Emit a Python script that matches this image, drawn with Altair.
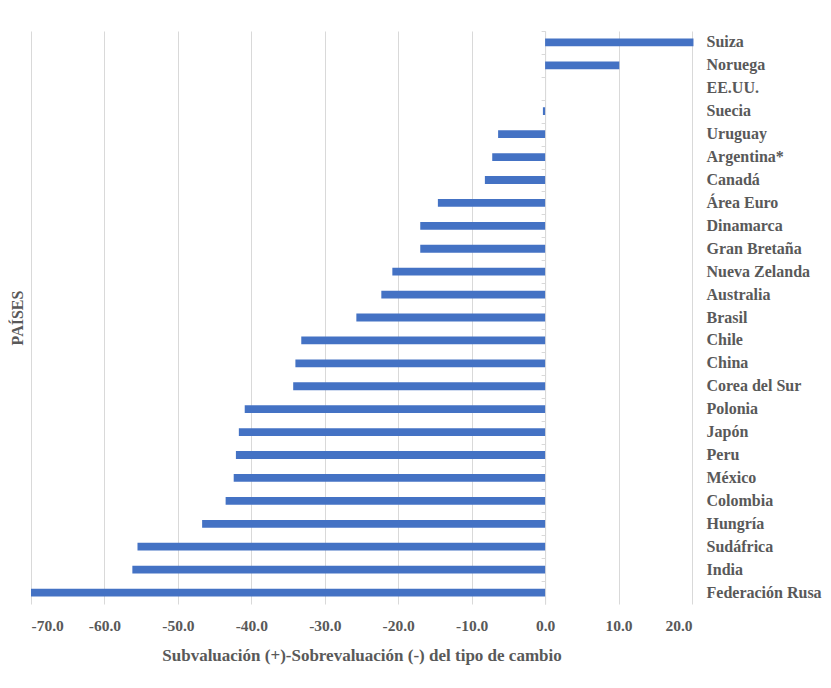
import altair as alt
import pandas as pd

paises = ["Suiza", "Noruega", "EE.UU.", "Suecia", "Uruguay", "Argentina*", "Canadá",
          "Área Euro", "Dinamarca", "Gran Bretaña", "Nueva Zelanda", "Australia", "Brasil",
          "Chile", "China", "Corea del Sur", "Polonia", "Japón", "Peru", "México",
          "Colombia", "Hungría", "Sudáfrica", "India", "Federación Rusa"]
valores = [20.2, 10.1, 0.0, -0.3, -6.4, -7.2, -8.2,
           -14.6, -17.0, -17.0, -20.8, -22.3, -25.7,
           -33.2, -34.0, -34.3, -40.9, -41.7, -42.1, -42.4,
           -43.5, -46.7, -55.5, -56.2, -70.0]
ticks_x = [-70, -60, -50, -40, -30, -20, -10, 0, 10, 20]

df = pd.DataFrame({"pais": paises, "valor": valores})

W = 661
H = 573
FONT = "Liberation Serif"
GREY = "#595959"
LINE = "#d9d9d9"
zero_px = (0 - (-70)) / 90 * W

yscale = alt.Scale(paddingInner=0.66, paddingOuter=0.33)

bars = alt.Chart(df).mark_bar(color="#4472C4").encode(
    x=alt.X("valor:Q",
            scale=alt.Scale(domain=[-70, 20], nice=False),
            axis=alt.Axis(values=ticks_x,
                          labelExpr="replace(format(datum.value, '.1f'), '\u2212', '-')",
                          grid=True, gridColor=LINE,
                          domain=False, ticks=False, labelPadding=14,
                          labelFont=FONT, labelFontWeight="bold", labelFontSize=15.5,
                          labelColor=GREY,
                          title="Subvaluación (+)-Sobrevaluación (-) del tipo de cambio",
                          titleFont=FONT, titleFontWeight="bold", titleFontSize=17,
                          titleColor=GREY, titlePadding=14)),
    y=alt.Y("pais:N", sort=paises, scale=yscale,
            axis=alt.Axis(orient="left", offset=-zero_px, labels=False, title=None,
                          ticks=True, tickSize=4, tickOffset=-H / 25 / 2,
                          tickColor=LINE, domain=True, domainColor=LINE, grid=False)),
)

labels = alt.Chart(df).mark_bar(opacity=0).encode(
    x=alt.X("valor:Q", scale=alt.Scale(domain=[-70, 20], nice=False), axis=None),
    y=alt.Y("pais:N", sort=paises, scale=yscale,
            axis=alt.Axis(orient="right", title=None, domain=False, ticks=False,
                          labelPadding=14, labelFont=FONT, labelFontWeight="bold",
                          labelFontSize=16, labelColor=GREY)),
)

titulo = alt.Chart(pd.DataFrame({"t": ["PAÍSES"]})).mark_text(
    font=FONT, fontWeight="bold", fontSize=16, color=GREY, angle=270
).encode(text="t:N", x=alt.value(-13), y=alt.value(287))

chart = alt.layer(bars, labels, titulo).resolve_axis(
    x="independent", y="independent"
).properties(
    width=W, height=H,
    autosize=alt.AutoSizeParams(type="none"),
    padding={"left": 23, "top": 23, "right": 131, "bottom": 76},
    background="white",
).configure_view(stroke=None)

chart.save("out.html", embed_options={"renderer": "svg", "actions": False})
